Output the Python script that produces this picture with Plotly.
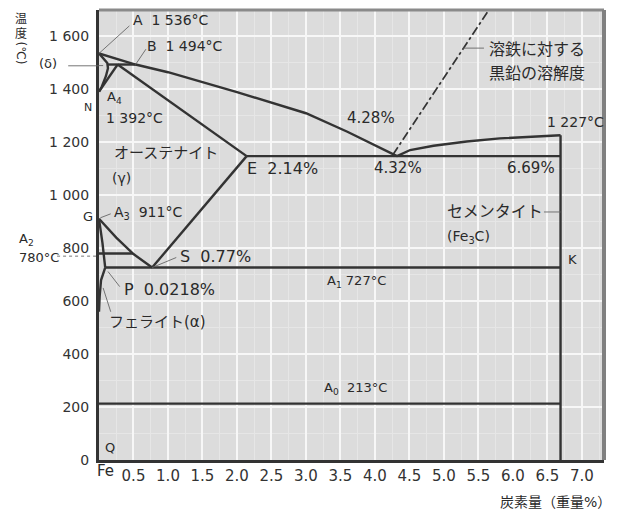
import plotly.graph_objects as go

# ---------------- data (composition %C, temperature degC) ----------------
liq_x = [0, 0.53, 1.0, 2.0, 3.0, 3.6, 4.32]
liq_T = [1536, 1494, 1465, 1390, 1310, 1240, 1148]
cem_liq_x = [4.32, 4.51, 4.85, 5.33, 5.81, 6.29, 6.69]
cem_liq_T = [1148, 1171, 1187, 1203, 1215, 1222, 1227]
graph_x = [4.26, 5.65]
graph_T = [1153, 1700]
ahn_x = [0, 0.07, 0.12, 0.13, 0.10, 0.04, 0]
ahn_T = [1536, 1516, 1500, 1480, 1450, 1410, 1392]
hjb_x = [0.12, 0.53]
hjb_T = [1494, 1494]
nj_x = [0, 0.27]
nj_T = [1392, 1494]
je_x = [0.27, 2.14]
je_T = [1494, 1148]
gs_x = [0, 0.25, 0.5, 0.77]
gs_T = [911, 840, 778, 727]
se_x = [0.77, 2.14]
se_T = [727, 1148]
gp_x = [0, 0.05, 0.09]
gp_T = [911, 820, 727]
pq_x = [0.09, 0.06, 0.03, 0.01, 0]
pq_T = [727, 700, 680, 620, 560]
a2_x = [0, 0.49]
a2_T = [780, 780]
eutectic_x = [2.14, 6.69]
eutectic_T = [1148, 1148]
eutectoid_x = [0.09, 6.69]
eutectoid_T = [727, 727]
a0_x = [0, 6.69]
a0_T = [213, 213]
fe3c_x = [6.69, 6.69]
fe3c_T = [0, 1227]

x_tickvals = [0.5, 1.0, 1.5, 2.0, 2.5, 3.0, 3.5, 4.0, 4.5, 5.0, 5.5, 6.0, 6.5, 7.0]
x_ticktext = ["0.5", "1.0", "1.5", "2.0", "2.5", "3.0", "3.5", "4.0", "4.5", "5.0", "5.5", "6.0", "6.5", "7.0"]
y_tickvals = [0, 200, 400, 600, 800, 1000, 1200, 1400, 1600]
y_ticktext = ["0", "200", "400", "600", "800", "1 000", "1 200", "1 400", "1 600"]

# labels inside the plot: (text, x, T, xanchor, size)
labels = [
    ("A  1 536°C", 0.47, 1662, "left", 14),
    ("B  1 494°C", 0.67, 1564, "left", 14),
    ("A<sub>4</sub>", 0.08, 1371, "left", 13),
    ("1 392°C", 0.07, 1292, "left", 14),
    ("オーステナイト", 0.19, 1160, "left", 15),
    ("(γ)", 0.16, 1065, "left", 14),
    ("E  2.14%", 2.12, 1103, "left", 16),
    ("4.28%", 3.57, 1292, "left", 15),
    ("4.32%", 3.96, 1103, "left", 15),
    ("6.69%", 5.88, 1103, "left", 15),
    ("1 227°C", 6.46, 1277, "left", 14),
    ("溶鉄に対する", 5.62, 1549, "left", 16),
    ("黒鉛の溶解度", 5.62, 1462, "left", 16),
    ("セメンタイト", 5.01, 937, "left", 16),
    ("(Fe<sub>3</sub>C)", 5.01, 842, "left", 14),
    ("K", 6.77, 759, "left", 13),
    ("A<sub>3</sub>  911°C", 0.19, 933, "left", 14),
    ("S  0.77%", 1.14, 767, "left", 16),
    ("A<sub>1</sub> 727°C", 3.28, 676, "left", 13),
    ("P  0.0218%", 0.33, 646, "left", 16),
    ("フェライト(α)", 0.12, 521, "left", 15),
    ("A<sub>0</sub>  213°C", 3.23, 272, "left", 13),
    ("Q", 0.06, 49, "left", 13),
]

# labels outside the plot area (paper coordinates): (text, x, y, xanchor, size, angle)
outer_labels = [
    ("(δ)", -0.101, 0.882, "center", 13, 0),
    ("A<sub>2</sub>", -0.162, 0.491, "left", 13, 0),
    ("780°C", -0.162, 0.451, "left", 13, 0),
    ("N", -0.022, 0.784, "center", 11, 0),
    ("G", -0.022, 0.54, "center", 13, 0),
    ("温", -0.154, 0.980, "center", 12, 0),
    ("度", -0.154, 0.947, "center", 12, 0),
    ("(℃)", -0.154, 0.905, "center", 12, 90),
    ("Fe", 0.012, -0.024, "center", 15, 0),
    ("炭素量（重量%）", 1.018, -0.093, "right", 14, 0),
]

# leader lines inside plot (x0, T0, x1, T1, dash)
leaders = [
    (0.44, 1640, 0.0, 1536, "solid"),
    (0.68, 1552, 0.53, 1494, "solid"),
    (0.0, 1490, 0.06, 1490, "solid"),
    (0.02, 915, 0.17, 930, "solid"),
    (0.77, 727, 1.12, 765, "solid"),
    (0.13, 712, 0.30, 655, "solid"),
    (0.06, 650, 0.17, 560, "solid"),
    (5.28, 1556, 5.58, 1556, "solid"),
    (6.45, 937, 6.69, 937, "solid"),
]
# leader lines outside plot (paper coords)
outer_leaders = [
    (-0.061, 0.876, 0.0, 0.876, "solid"),
    (-0.083, 0.453, 0.0, 0.453, "dot"),
]

LINE = "#333333"
fig = go.Figure()


def add_line(x, T, width=2.4, color=LINE, dash="solid"):
    fig.add_trace(go.Scatter(x=x, y=T, mode="lines",
                             line=dict(color=color, width=width, dash=dash),
                             hoverinfo="skip", showlegend=False))


for xs, Ts in [(liq_x, liq_T), (cem_liq_x, cem_liq_T), (ahn_x, ahn_T), (hjb_x, hjb_T),
               (nj_x, nj_T), (je_x, je_T), (gs_x, gs_T), (se_x, se_T), (gp_x, gp_T),
               (pq_x, pq_T), (a2_x, a2_T), (eutectic_x, eutectic_T),
               (eutectoid_x, eutectoid_T), (a0_x, a0_T), (fe3c_x, fe3c_T)]:
    add_line(xs, Ts)
add_line(graph_x, graph_T, width=1.7, dash="dashdot")
for x0, t0, x1, t1, d in leaders:
    add_line([x0, x1], [t0, t1], width=0.9, color="#666666", dash=d)

FONT = "DejaVu Sans, Noto Sans CJK JP, sans-serif"
TXT = "#2a2a2a"
annotations = []
for text, x, T, anchor, size in labels:
    annotations.append(dict(x=x, y=T, xref="x", yref="y", text=text, showarrow=False,
                            xanchor=anchor, yanchor="middle",
                            font=dict(family=FONT, size=size, color=TXT)))
for text, x, y, anchor, size, ang in outer_labels:
    annotations.append(dict(x=x, y=y, xref="paper", yref="paper", text=text, showarrow=False,
                            xanchor=anchor, yanchor="middle", textangle=ang,
                            font=dict(family=FONT, size=size, color=TXT)))

shapes = [
    dict(type="line", xref="paper", yref="paper", x0=0, x1=1, y0=1, y1=1,
         line=dict(color="#8a8a8a", width=3)),
    dict(type="line", xref="paper", yref="paper", x0=1, x1=1, y0=0, y1=1,
         line=dict(color="#808080", width=4)),
]
for x0, y0, x1, y1, d in outer_leaders:
    shapes.append(dict(type="line", xref="paper", yref="paper", x0=x0, x1=x1, y0=y0, y1=y1,
                       line=dict(color="#666666", width=0.9, dash=d)))

# the page body has an 8px margin, so the figure is sized to fit the 620x511 window
fig.update_layout(
    width=612, height=503,
    margin=dict(l=91, r=16, t=2, b=51),
    paper_bgcolor="white", plot_bgcolor="#dcdcdc",
    annotations=annotations,
    shapes=shapes,
    xaxis=dict(range=[0, 7.32], tickvals=x_tickvals, ticktext=x_ticktext,
               showgrid=True, gridcolor="#f7f7f7", gridwidth=1.5,
               minor=dict(dtick=0.25, showgrid=True, gridcolor="#e6e6e6", gridwidth=1),
               showline=True, linecolor="#333333", linewidth=2.5, zeroline=False,
               ticks="", tickfont=dict(family=FONT, size=15, color="#333333")),
    yaxis=dict(range=[0, 1700], tickvals=y_tickvals, ticktext=y_ticktext,
               showgrid=True, gridcolor="#f7f7f7", gridwidth=1.5,
               minor=dict(dtick=100, showgrid=True, gridcolor="#e6e6e6", gridwidth=1),
               showline=True, linecolor="#333333", linewidth=3, zeroline=False,
               ticks="", ticklabelstandoff=4,
               tickfont=dict(family=FONT, size=14, color="#333333")),
)

fig.write_html("out.html")
